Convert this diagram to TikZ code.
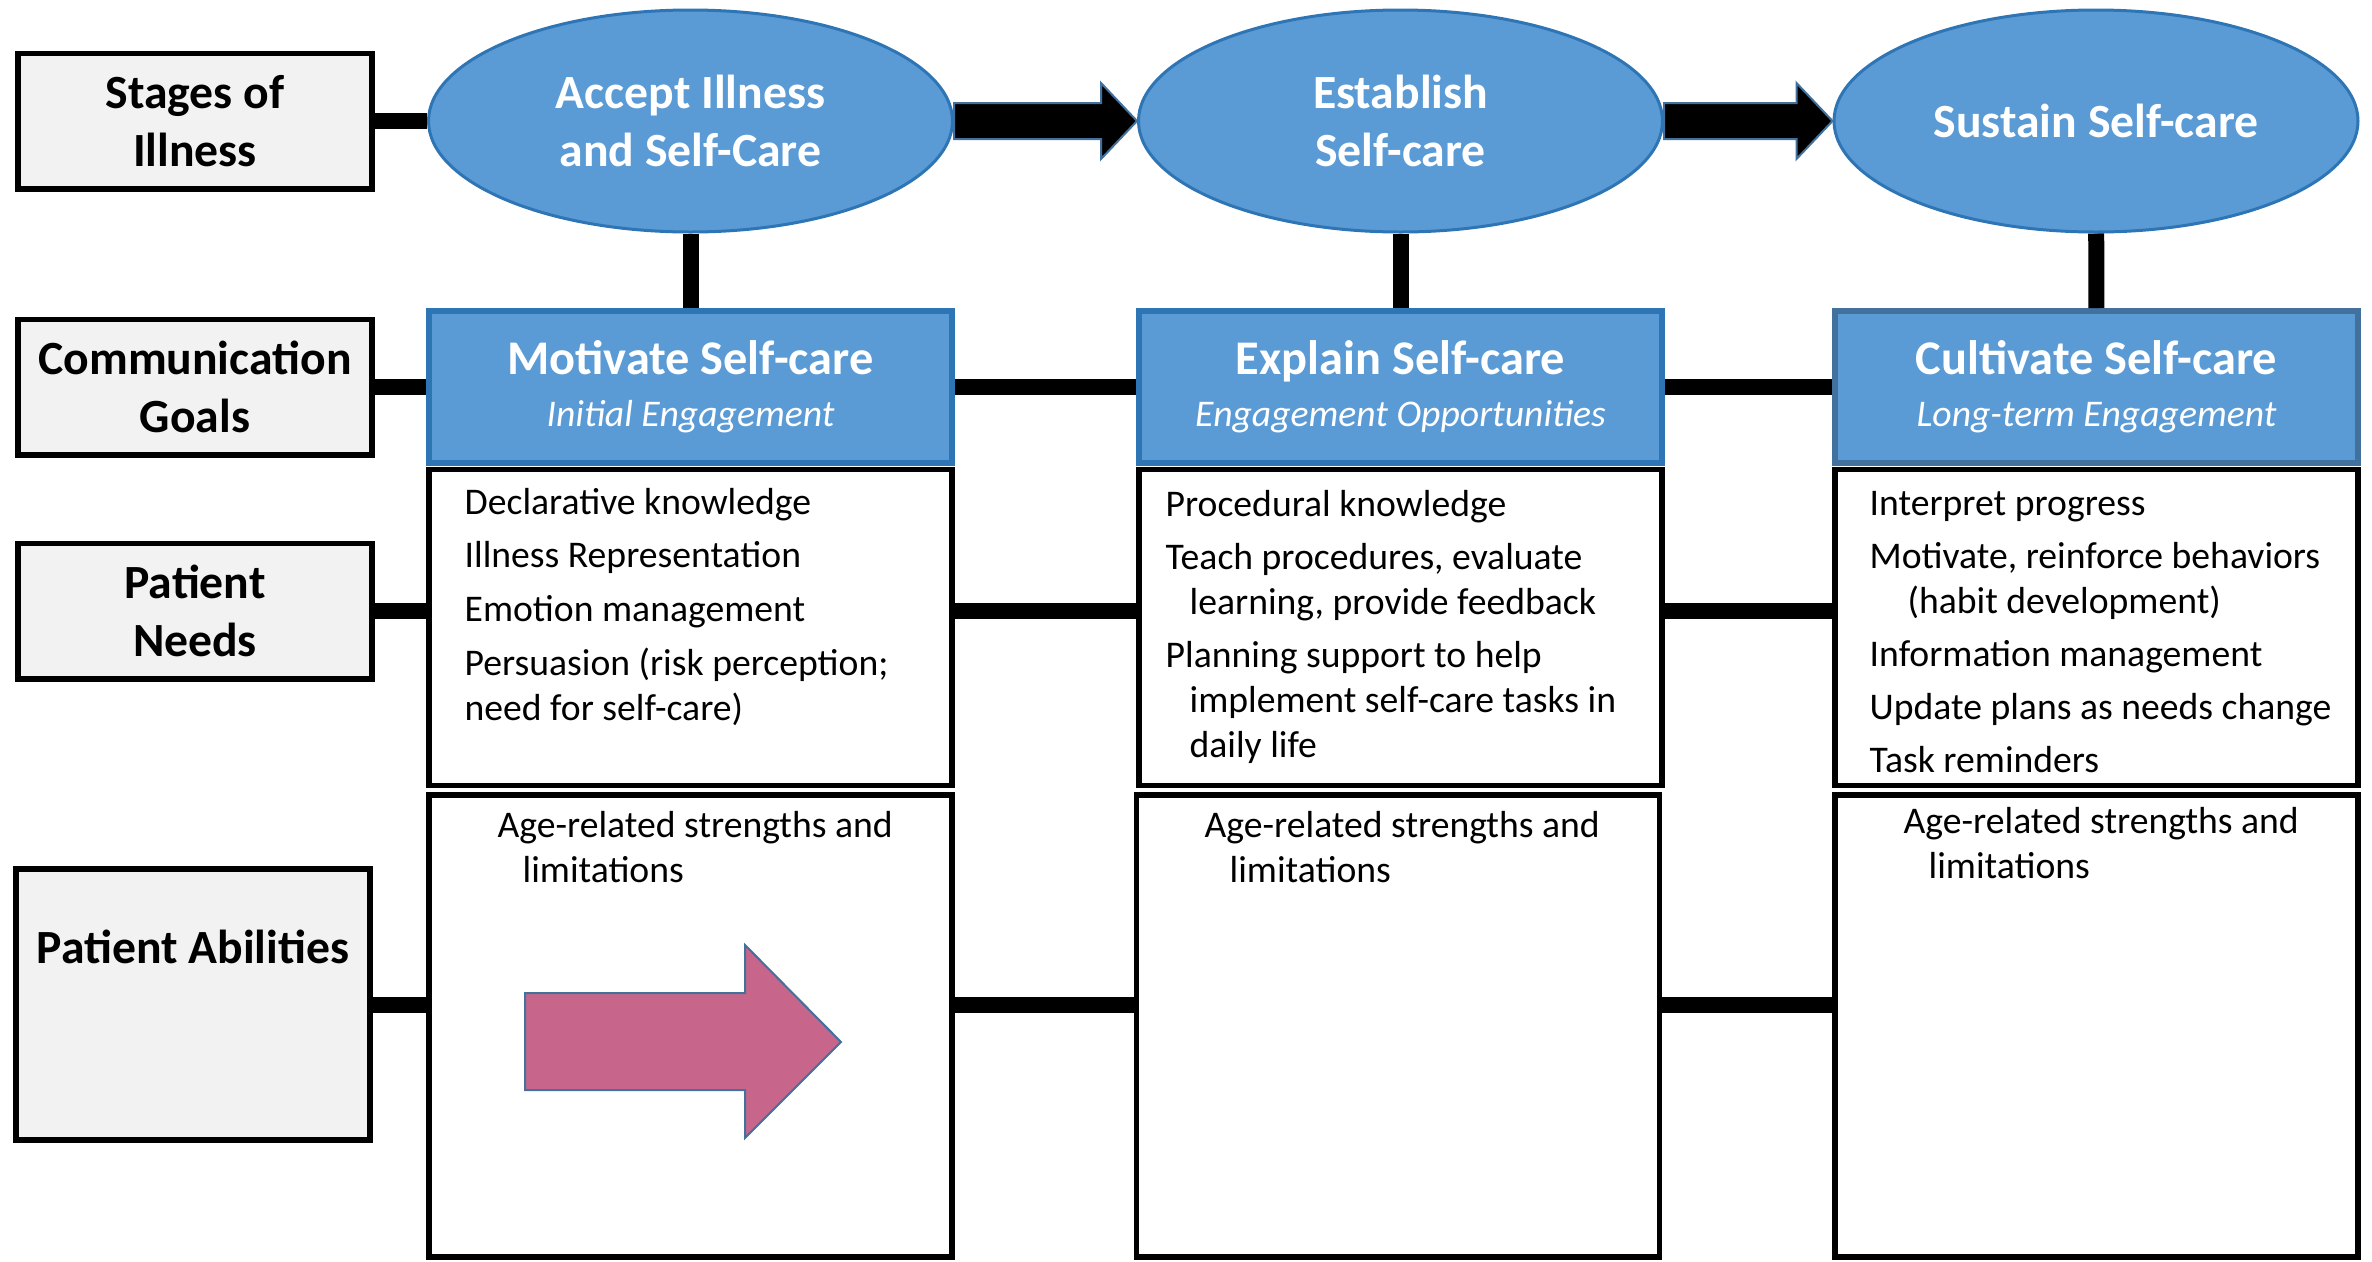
\documentclass[tikz,border=0pt]{standalone}
\usepackage{fontspec}
\setmainfont{Carlito}
\usetikzlibrary{shapes.geometric}
\definecolor{boxblue}{HTML}{5B9BD5}
\definecolor{edgeblue}{HTML}{2E75B6}
\definecolor{slateblue}{HTML}{41719C}
\definecolor{labelgray}{HTML}{F2F2F2}
\definecolor{arrowpink}{HTML}{C8658A}

\begin{document}
\begin{tikzpicture}
          [x=0.3pt,y=-0.3pt,
          rowlabel/.style={shape=rectangle,draw=black,fill=labelgray,line width=1.7pt,minimum width=106.3pt,minimum height=40.6pt,align=center,font=\fontsize{14.3}{17.4}\selectfont\bfseries},
          stage/.style={shape=ellipse,draw=edgeblue,fill=boxblue,line width=0.9pt,minimum width=157.2pt,minimum height=66.6pt,inner sep=0pt,align=center,text=white,font=\fontsize{14.3}{17.4}\selectfont\bfseries},
          goal/.style={shape=rectangle,draw=edgeblue,fill=boxblue,line width=1.8pt,minimum width=157pt,minimum height=45.6pt,align=center,text=white,font=\fontsize{14.5}{14.1}\selectfont},
          needbox/.style={shape=rectangle,draw=black,line width=1.65pt,minimum width=157pt,minimum height=94.8pt},
          abilbox/.style={needbox,minimum height=138.6pt},
          items/.style={anchor=base west,align=left,inner sep=0pt,font=\fontsize{11.3}{13.5}\selectfont},
          conn/.style={line width=4.8pt},
          blockarrow/.style={fill=black,draw=slateblue,line width=0.6pt}]

            \useasboundingbox (0,0) rectangle (2372,1262);

            % row labels
            \node (stages) [rowlabel] at (195,121) {Stages of\\Illness};
            \node (goals) [rowlabel] at (195,387) {Communication\\Goals};
            \node (needs) [rowlabel] at (195,611) {Patient\\Needs};
            \node (abil) [rowlabel,minimum height=81.3pt] at (193,1004.5) {};
            \node (abiltext) [font=\fontsize{14.3}{17.4}\selectfont\bfseries] at (193,947) {Patient Abilities};

            % stages of illness
            \node (acc) [stage] at (690.5,121) {Accept Illness\\and Self-Care};
            \node (est) [stage] at (1400.5,121) {Establish\\Self-care};
            \node (sus) [stage] at (2096,121) {Sustain Self-care};

            % communication goals
            \node (mot) [goal] at (690.5,387) {{\bfseries Motivate Self-care}\\[1.5pt]{\fontsize{11.3}{14}\selectfont\itshape Initial Engagement}};
            \node (expl) [goal] at (1400.5,387) {{\bfseries Explain Self-care}\\[1.5pt]{\fontsize{11.3}{14}\selectfont\itshape Engagement Opportunities}};
            \node (cult) [goal,draw=slateblue] at (2096.5,387) {{\bfseries Cultivate Self-care}\\[1.5pt]{\fontsize{11.3}{14}\selectfont\itshape Long-term Engagement}};

            % patient needs (text placed at the baseline of its last line)
            \node (need1) [needbox] at (690.5,627.5) {};
            \node (need2) [needbox] at (1400.5,627.5) {};
            \node (need3) [needbox] at (2096.5,627.5) {};
            \node (needtext1) [items] at (464,720) {Declarative knowledge\\[2.6pt]Illness Representation\\[2.6pt]Emotion management\\[2.6pt]Persuasion (risk perception;\\need for self-care)};
            \node (needtext2) [items] at (1165,757) {Procedural knowledge\\[2.4pt]Teach procedures, evaluate\\\hspace*{7.2pt}learning, provide feedback\\[2.4pt]Planning support to help\\\hspace*{7.2pt}implement self-care tasks in\\\hspace*{7.2pt}daily life};
            \node (needtext3) [items] at (1869,772) {Interpret progress\\[2.4pt]Motivate, reinforce behaviors\\\hspace*{11.4pt}(habit development)\\[2.4pt]Information management\\[2.4pt]Update plans as needs change\\[2.4pt]Task reminders};

            % patient abilities
            \node (ab1) [abilbox] at (690.5,1026) {};
            \node (ab2) [abilbox] at (1398,1026) {};
            \node (ab3) [abilbox] at (2096.5,1026) {};
            \node (abtext1) [items] at (497,882) {Age-related strengths and\\\hspace*{7.5pt}limitations};
            \node (abtext2) [items] at (1204,882) {Age-related strengths and\\\hspace*{7.5pt}limitations};
            \node (abtext3) [items] at (1903,878) {Age-related strengths and\\\hspace*{7.5pt}limitations};

            \draw [fill=arrowpink,draw=slateblue,line width=0.6pt] (525,993) -- (745,993) -- (745,945) -- (841,1042) -- (745,1138) -- (745,1090) -- (525,1090) -- cycle;

            % connectors
            \draw [conn] (stages) -- (acc);
            \draw [conn] (goals) -- (mot);
            \draw [conn] (mot) -- (expl);
            \draw [conn] (expl) -- (cult);
            \draw [conn] (needs.east) -- (needs.east -| need1.west);
            \draw [conn] (needs.east -| need1.east) -- (needs.east -| need2.west);
            \draw [conn] (needs.east -| need2.east) -- (needs.east -| need3.west);
            \draw [conn] (abil.east) -- (abil.east -| ab1.west);
            \draw [conn] (abil.east -| ab1.east) -- (abil.east -| ab2.west);
            \draw [conn] (abil.east -| ab2.east) -- (abil.east -| ab3.west);
            \draw [conn] (acc) -- (mot);
            \draw [conn] (est) -- (expl);
            \draw [conn] (sus) -- (cult);

            \draw [blockarrow] ([shift={(0,-18)}]acc.east) -- ([shift={(-36,-18)}]est.west) -- ([shift={(-36,-38)}]est.west) -- (est.west)
              -- ([shift={(-36,38)}]est.west) -- ([shift={(-36,18)}]est.west) -- ([shift={(0,18)}]acc.east) -- cycle;
            \draw [blockarrow] ([shift={(0,-18)}]est.east) -- ([shift={(-36,-18)}]sus.west) -- ([shift={(-36,-38)}]sus.west) -- (sus.west)
              -- ([shift={(-36,38)}]sus.west) -- ([shift={(-36,18)}]sus.west) -- ([shift={(0,18)}]est.east) -- cycle;

        \end{tikzpicture}
\end{document}
